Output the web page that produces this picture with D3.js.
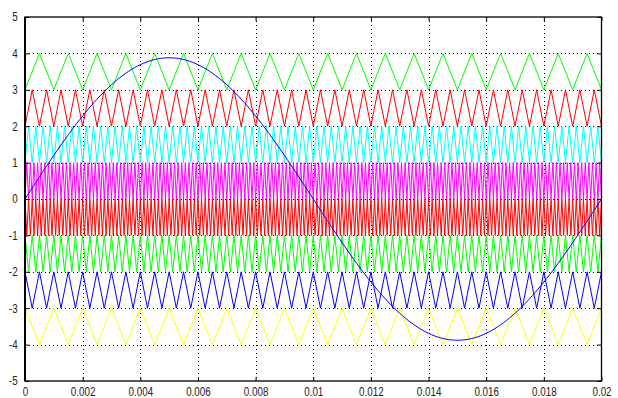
<!DOCTYPE html>
<html><head><meta charset="utf-8">
<script src="https://cdn.jsdelivr.net/npm/d3@7"></script>
<style>
html,body{margin:0;padding:0;background:#fff;}
svg{display:block;}
.tick text{font-family:"Liberation Sans Narrow","Liberation Sans",Arial,sans-serif;font-size:12px;fill:#222;}
</style></head>
<body>
<svg id="c" width="618" height="398"></svg>
<script>
// ---- data ----
const xTicks = [0,0.002,0.004,0.006,0.008,0.01,0.012,0.014,0.016,0.018,0.02];
const xTickLabels = ["0","0.002","0.004","0.006","0.008","0.01","0.012","0.014","0.016","0.018","0.02"];
const yTicks = [-5,-4,-3,-2,-1,0,1,2,3,4,5];
const carrierLow    = [3, 2, 1, 0, -1, -2, -3, -4];
const carrierColors = ["#00ff00","#ff0000","#00ffff","#ff00ff","#ff0000","#00ff00","#0000ff","#ffff00"];
const carrierCycles = [20, 40, 80, 160, 160, 80, 40, 20];
const carrierStartHigh = [false,false,false,false,true,true,true,true];
const tEnd = 0.02;
const sineAmplitude = 3.88;
const sineFrequency = 50;
const sineSamples = 200;

// ---- layout ----
const W=618,H=398, L=25, R=601.5, T=17, B=381;
const svg = d3.select("#c");
const x = d3.scaleLinear().domain([0,0.02]).range([L,R]);
const y = d3.scaleLinear().domain([-5,5]).range([B,T]);

// grid
const grid = svg.append("g");
grid.selectAll("line.gx").data(xTicks.slice(1,-1)).join("line")
  .attr("x1",d=>Math.round(x(d))+0.5).attr("x2",d=>Math.round(x(d))+0.5)
  .attr("y1",T).attr("y2",B)
  .attr("stroke","#000").attr("stroke-width",1).attr("stroke-dasharray","1,3");
grid.selectAll("line.gy").data(yTicks.slice(1,-1)).join("line")
  .attr("y1",d=>Math.round(y(d))+0.5).attr("y2",d=>Math.round(y(d))+0.5)
  .attr("x1",L).attr("x2",R)
  .attr("stroke","#000").attr("stroke-width",1).attr("stroke-dasharray","1,3");

// carriers
const line = d3.line().x(d=>x(d[0])).y(d=>y(d[1]));
carrierLow.forEach((lo,i)=>{
  const n = carrierCycles[i]*2;
  const pts = d3.range(n+1).map(k=>{
    const hi = (k%2===0) === carrierStartHigh[i];
    return [k*tEnd/n, hi ? lo+1 : lo];
  });
  svg.append("path").datum(pts).attr("d",line)
    .attr("fill","none").attr("stroke",carrierColors[i]).attr("stroke-width",1);
});

// sine reference
const sinePts = d3.range(sineSamples+1).map(k=>{
  const t = k*tEnd/sineSamples;
  return [t, sineAmplitude*Math.sin(2*Math.PI*sineFrequency*t)];
});
svg.append("path").datum(sinePts).attr("d",line)
  .attr("fill","none").attr("stroke","#0000ff").attr("stroke-width",1);

// axes
const fmt = (d,i)=>xTickLabels[i];
svg.append("g").attr("transform",`translate(0,${B})`)
  .call(d3.axisBottom(x).tickValues(xTicks).tickFormat(fmt).tickSizeInner(-4).tickSizeOuter(0).tickPadding(6))
  .call(g=>g.select(".domain").remove())
  .call(g=>g.selectAll("text").attr("transform","scale(0.82,1)"));
svg.append("g").attr("transform",`translate(0,${T})`)
  .call(d3.axisTop(x).tickValues(xTicks).tickFormat("").tickSizeInner(-4).tickSizeOuter(0))
  .call(g=>g.select(".domain").remove());
svg.append("g").attr("transform",`translate(${L},0)`)
  .call(d3.axisLeft(y).tickValues(yTicks).tickFormat(d3.format("d")).tickSizeInner(-4).tickSizeOuter(0).tickPadding(9))
  .call(g=>g.select(".domain").remove())
  .call(g=>g.selectAll("text").attr("transform","scale(0.82,1)"));
svg.append("g").attr("transform",`translate(${R},0)`)
  .call(d3.axisRight(y).tickValues(yTicks).tickFormat("").tickSizeInner(-4).tickSizeOuter(0))
  .call(g=>g.select(".domain").remove());
svg.selectAll(".tick text").text(function(){return this.textContent.replace("−","-");});
svg.selectAll(".tick line").attr("stroke","#000");
svg.append("rect").attr("x",L).attr("y",T).attr("width",R-L).attr("height",B-T)
  .attr("fill","none").attr("stroke","#000").attr("stroke-width",1.3);
svg.append("line").attr("x1",L).attr("x2",L).attr("y1",T).attr("y2",B)
  .attr("stroke","#000").attr("stroke-width",2);
</script>
</body></html>
